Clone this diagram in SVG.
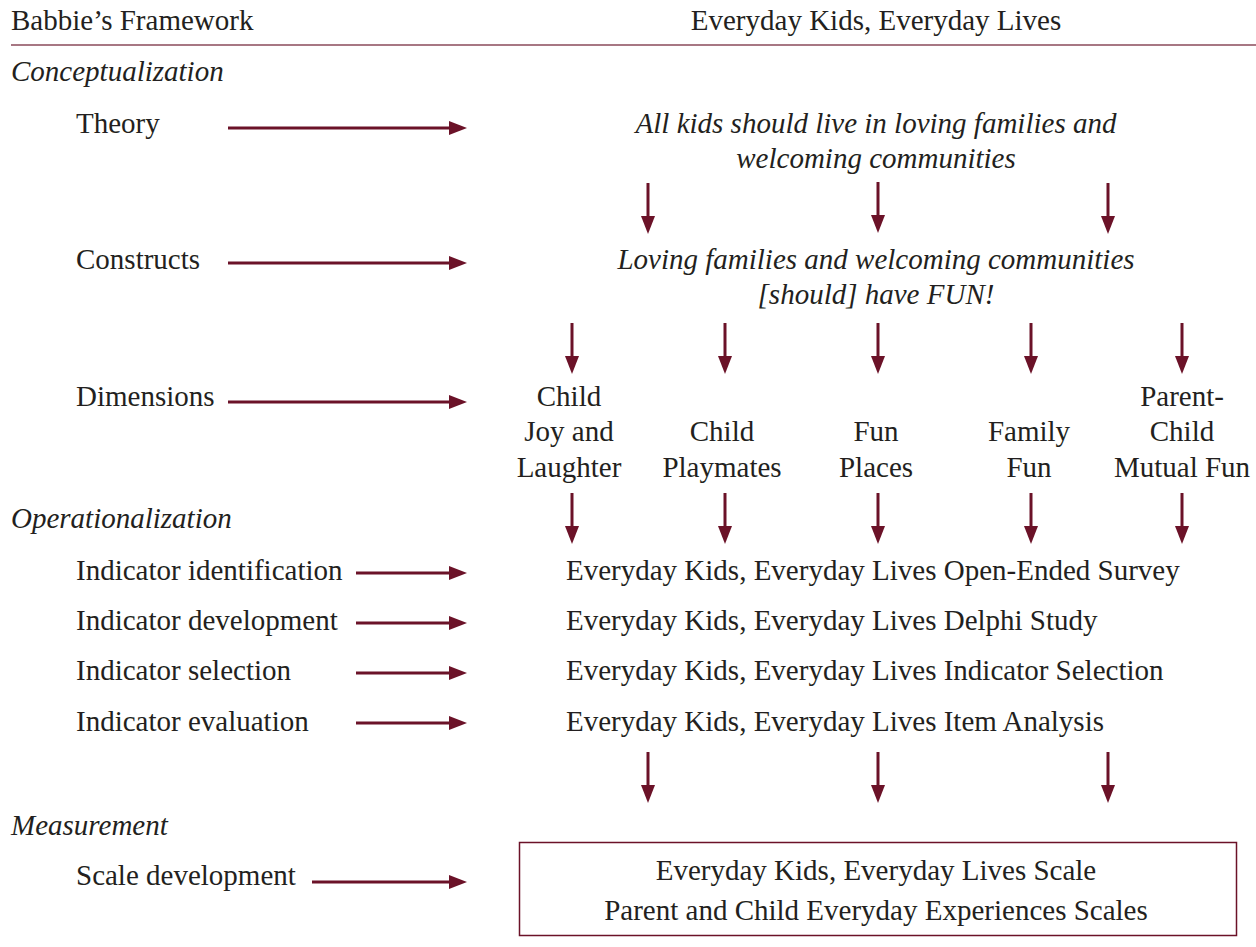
<svg xmlns="http://www.w3.org/2000/svg" width="1256" height="947" viewBox="0 0 1256 947">
<style>
text{font-family:"Liberation Serif","Times New Roman",serif;font-size:29px;fill:#231f20}
.i{font-style:italic}
.c{text-anchor:middle}
.a{stroke:#6b1228;stroke-width:3;fill:none;marker-end:url(#ah)}
</style>
<defs>
<marker id="ah" viewBox="0 0 18 14" refX="0" refY="7" markerWidth="18" markerHeight="14" markerUnits="userSpaceOnUse" orient="auto">
<path d="M0,0 L18,7 L0,14 Z" fill="#6b1228"/>
</marker>
</defs>
<rect width="1256" height="947" fill="#fff"/>
<g id="header">
<text x="11" y="30">Babbie’s Framework</text>
<text x="876" y="30" class="c">Everyday Kids, Everyday Lives</text>
<line x1="11" y1="45" x2="1256" y2="45" stroke="#8a4a5a" stroke-width="1.5"/>
</g>
<g id="sections">
<text x="11" y="81" class="i">Conceptualization</text>
<text x="11" y="528" class="i">Operationalization</text>
<text x="11" y="835" class="i">Measurement</text>
</g>
<g id="left-labels">
<text x="76" y="133">Theory</text>
<text x="76" y="269">Constructs</text>
<text x="76" y="406">Dimensions</text>
<text x="76" y="580">Indicator identification</text>
<text x="76" y="630">Indicator development</text>
<text x="76" y="680">Indicator selection</text>
<text x="76" y="731">Indicator evaluation</text>
<text x="76" y="885">Scale development</text>
</g>
<g id="theory">
<text x="876" y="133" class="i c">All kids should live in loving families and</text>
<text x="876" y="168" class="i c">welcoming communities</text>
</g>
<g id="constructs">
<text x="876" y="269" class="i c">Loving families and welcoming communities</text>
<text x="876" y="304" class="i c">[should] have FUN!</text>
</g>
<g id="dim1"><text x="569" y="406" class="c">Child</text><text x="569" y="441" class="c">Joy and</text><text x="569" y="477" class="c">Laughter</text></g>
<g id="dim2"><text x="722" y="441" class="c">Child</text><text x="722" y="477" class="c">Playmates</text></g>
<g id="dim3"><text x="876" y="441" class="c">Fun</text><text x="876" y="477" class="c">Places</text></g>
<g id="dim4"><text x="1029" y="441" class="c">Family</text><text x="1029" y="477" class="c">Fun</text></g>
<g id="dim5"><text x="1182" y="406" class="c">Parent-</text><text x="1182" y="441" class="c">Child</text><text x="1182" y="477" class="c">Mutual Fun</text></g>
<g id="ops">
<text x="566" y="580">Everyday Kids, Everyday Lives Open-Ended Survey</text>
<text x="566" y="630">Everyday Kids, Everyday Lives Delphi Study</text>
<text x="566" y="680">Everyday Kids, Everyday Lives Indicator Selection</text>
<text x="566" y="731">Everyday Kids, Everyday Lives Item Analysis</text>
</g>
<g id="scale">
<rect x="519.5" y="842.5" width="717" height="93" fill="none" stroke="#6b1228" stroke-width="1.5"/>
<text x="876" y="880" class="c">Everyday Kids, Everyday Lives Scale</text>
<text x="876" y="920" class="c">Parent and Child Everyday Experiences Scales</text>
</g>
<g id="connectors">
<line class="a" x1="228" y1="128" x2="449" y2="128"/>
<line class="a" x1="228" y1="263" x2="449" y2="263"/>
<line class="a" x1="228" y1="402" x2="449" y2="402"/>
<line class="a" x1="356" y1="573" x2="449" y2="573"/>
<line class="a" x1="356" y1="623" x2="449" y2="623"/>
<line class="a" x1="356" y1="673" x2="449" y2="673"/>
<line class="a" x1="356" y1="723" x2="449" y2="723"/>
<line class="a" x1="312" y1="882" x2="449" y2="882"/>
<line class="a" x1="648" y1="183" x2="648" y2="216"/>
<line class="a" x1="878" y1="182" x2="878" y2="215"/>
<line class="a" x1="1108" y1="183" x2="1108" y2="216"/>
<line class="a" x1="572" y1="323" x2="572" y2="356"/>
<line class="a" x1="725" y1="323" x2="725" y2="356"/>
<line class="a" x1="878" y1="323" x2="878" y2="356"/>
<line class="a" x1="1031" y1="323" x2="1031" y2="356"/>
<line class="a" x1="1182" y1="323" x2="1182" y2="356"/>
<line class="a" x1="572" y1="493" x2="572" y2="526"/>
<line class="a" x1="725" y1="493" x2="725" y2="526"/>
<line class="a" x1="878" y1="493" x2="878" y2="526"/>
<line class="a" x1="1031" y1="493" x2="1031" y2="526"/>
<line class="a" x1="1182" y1="493" x2="1182" y2="526"/>
<line class="a" x1="648" y1="752" x2="648" y2="785"/>
<line class="a" x1="878" y1="752" x2="878" y2="785"/>
<line class="a" x1="1108" y1="752" x2="1108" y2="785"/>
</g>
</svg>
